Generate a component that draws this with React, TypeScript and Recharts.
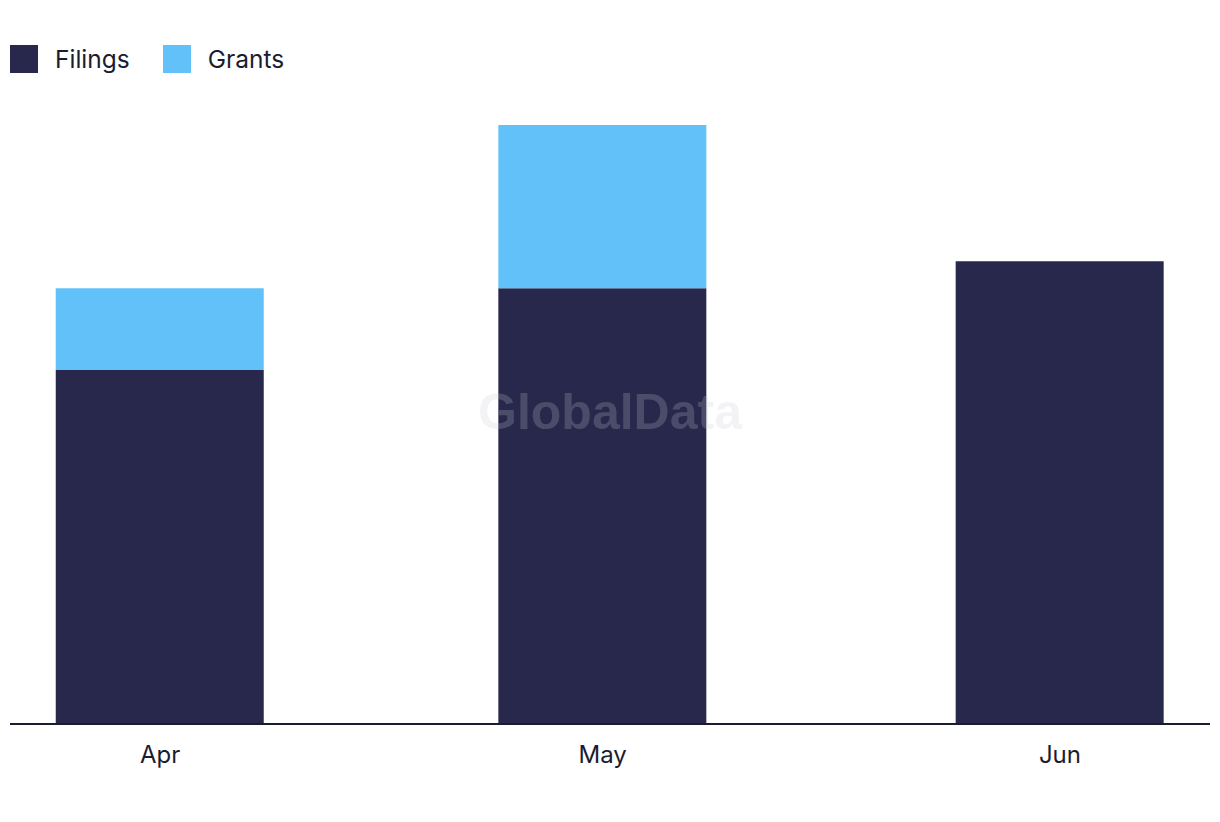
import React from "react";
import { BarChart, Bar, XAxis, YAxis } from "recharts";

// month start dates (UTC) and the counts
const months = ["Apr", "May", "Jun"];
const monthStarts = [Date.UTC(2024, 3, 1), Date.UTC(2024, 4, 1), Date.UTC(2024, 5, 1)];
const filings = [13, 16, 17];
const grants = [3, 6, 0];

const DAY = 24 * 60 * 60 * 1000;
const FONT = "Inter, 'Liberation Sans', Arial, sans-serif";
const DARK = "#28284c";
const LIGHT = "#62c1f9";
const TEXT = "#1c1c30";

const data = months.map((m, i) => ({
    month: m,
    date: monthStarts[i],
    filings: filings[i],
    grants: grants[i],
}));

const legendItems = [
    { label: "Filings", color: DARK },
    { label: "Grants", color: LIGHT },
];

export default function App() {
    return (
        <div style={{ position: "absolute", left: 0, top: 0, width: 1220, height: 822, background: "#fff", fontFamily: FONT }}>
            <BarChart
                width={1220}
                height={822}
                data={data}
                margin={{ top: 125, right: 10, left: 10, bottom: 0 }}
            >
                <XAxis
                    dataKey="date"
                    type="number"
                    scale="time"
                    domain={[monthStarts[0] - 10.17 * DAY, monthStarts[0] + 71.17 * DAY]}
                    ticks={monthStarts}
                    tickFormatter={(v: number) => months[monthStarts.indexOf(v)]}
                    height={98}
                    tickLine={false}
                    tickSize={0}
                    tickMargin={22}
                    axisLine={{ stroke: TEXT, strokeWidth: 2 }}
                    tick={{ fill: TEXT, fontSize: 24, fontFamily: FONT }}
                />
                <YAxis hide domain={[0, 22]} />
                <Bar dataKey="filings" stackId="a" fill={DARK} barSize={208} isAnimationActive={false} />
                <Bar dataKey="grants" stackId="a" fill={LIGHT} barSize={208} isAnimationActive={false} />
            </BarChart>

            <div style={{ position: "absolute", left: 10, top: 45, display: "flex", alignItems: "center" }}>
                {legendItems.map((it) => (
                    <div key={it.label} style={{ display: "flex", alignItems: "center", marginRight: 33 }}>
                        <span style={{ width: 28, height: 28, background: it.color, display: "inline-block", marginRight: 17 }} />
                        <span style={{ fontSize: 24.5, color: TEXT, lineHeight: "28px" }}>{it.label}</span>
                    </div>
                ))}
            </div>

            <div
                style={{
                    position: "absolute",
                    left: 0,
                    width: 1220,
                    top: 383,
                    textAlign: "center",
                    fontSize: 50,
                    fontWeight: 700,
                    fontFamily: "'Liberation Sans', Arial, sans-serif",
                    color: "rgba(200, 200, 212, 0.22)",
                    pointerEvents: "none",
                }}
            >
                GlobalData
            </div>
        </div>
    );
}
